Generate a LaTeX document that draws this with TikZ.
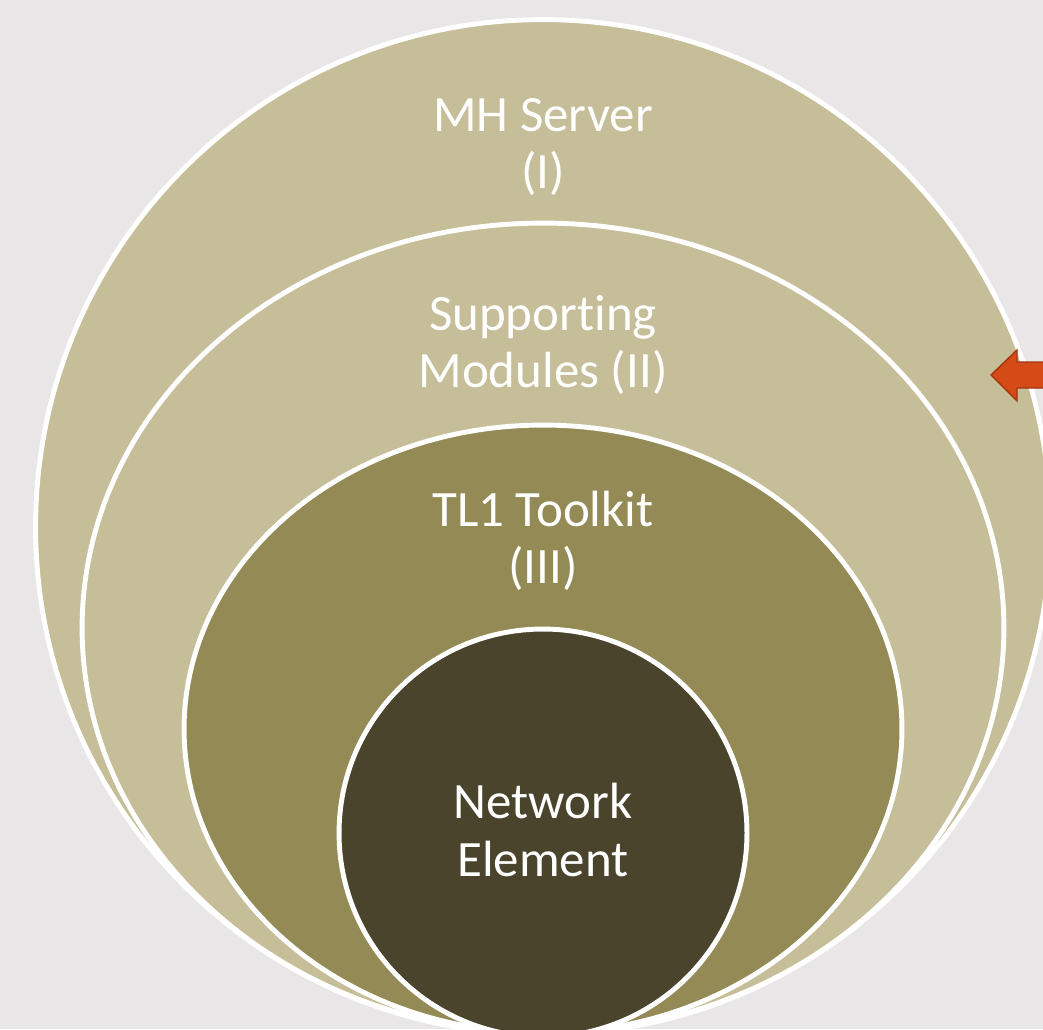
\documentclass[tikz,border=0pt]{standalone}
\usepackage{fontspec}
\setmainfont{Carlito}[Ligatures=NoCommon]
\usetikzlibrary{shapes.geometric}
\definecolor{bggray}{HTML}{E8E6E7}
\definecolor{tanlight}{HTML}{C5BE98}
\definecolor{olive}{HTML}{948A55}
\definecolor{darkolive}{HTML}{4A442C}
\definecolor{arrowfill}{HTML}{D44B17}
\definecolor{arrowline}{HTML}{A3350F}
\begin{document}
\begin{tikzpicture}[
  x=0.02cm, y=0.02cm,
  layer/.style={ellipse, draw=white, line width=2.8pt, inner sep=0pt},
  tag/.style={text=white, align=center, font=\fontsize{29}{32.5}\selectfont}
]
\useasboundingbox (0,0) rectangle (1043,1029);
\fill[bggray] (0,0) rectangle (1043,1029);
\clip (0,0) rectangle (1043,1029);

\node[layer, fill=tanlight, minimum width=20.3cm, minimum height=20.3cm] (server) at (543,502) {};
\node[layer, fill=tanlight, minimum width=18.44cm, minimum height=16.2cm] (modules) at (543,401) {};
\node[layer, fill=olive, minimum width=14.36cm, minimum height=12.16cm] (toolkit) at (543,300) {};
\node[layer, fill=darkolive, minimum width=8.16cm, minimum height=8.16cm] (element) at (543,196) {};

\node[tag] (serverlbl) at (543,882) {MH Server\\(I)};
\node[tag] (moduleslbl) at (543,684) {Supporting\\Modules (II)};
\node[tag] (toolkitlbl) at (543,488) {TL1 Toolkit\\(III)};
\node[tag] (elementlbl) at (543,199) {Network\\Element};

% pointer on the right
\coordinate (tip) at (991,654);
\filldraw[fill=arrowfill, draw=arrowline, line width=0.8pt, line join=miter]
  (tip) -- (1017,679) -- (1017,667) -- (1060,667) -- (1060,641)
  -- (1017,641) -- (1017,628) -- cycle;
\end{tikzpicture}
\end{document}
